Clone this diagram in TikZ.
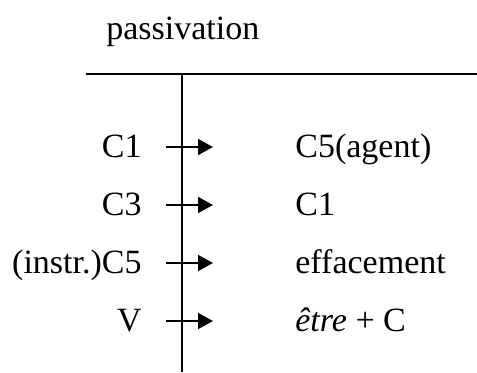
\documentclass[tikz,border=0pt]{standalone}
\usepackage{fontspec}
\setmainfont{Liberation Serif}
\usetikzlibrary{arrows.meta}

\tikzset{
  lab/.style={inner sep=0pt, font=\fontsize{17}{20}\selectfont},
  pil/.style={line width=0.9pt, -{Triangle[length=7.5pt,width=8pt]}},
  balk/.style={line width=0.9pt}
}

\begin{document}
\begin{tikzpicture}[x=0.5pt,y=0.5pt]
\useasboundingbox (0,0) rectangle (477,372);
\node [lab, anchor=base west] (titel) at (106,333) {passivation};
% the T
\coordinate (hl) at (86,298);
\coordinate (hr) at (477,298);
\coordinate (vt) at (182,298);
\coordinate (vb) at (182,0);
\draw [balk] (hl) -- (hr);
\draw [balk] (vt) -- (vb);
% rows: left -> right
\foreach \i/\l/\r in {1/C1/{C5(agent)}, 2/C3/C1, 3/{(instr.)C5}/effacement, 4/V/{\textit{être} + C}}{
  \pgfmathsetmacro\yy{225-58*(\i-1)}
  \node [lab, anchor=base east] (l\i) at (142,\yy-10) {\l};
  \node [lab, anchor=base west] (r\i) at (295,\yy-10) {\r};
  \coordinate (a\i) at (166,\yy);
  \coordinate (b\i) at (213,\yy);
  \draw [pil] (a\i) -- (b\i);
}
\end{tikzpicture}
\end{document}
